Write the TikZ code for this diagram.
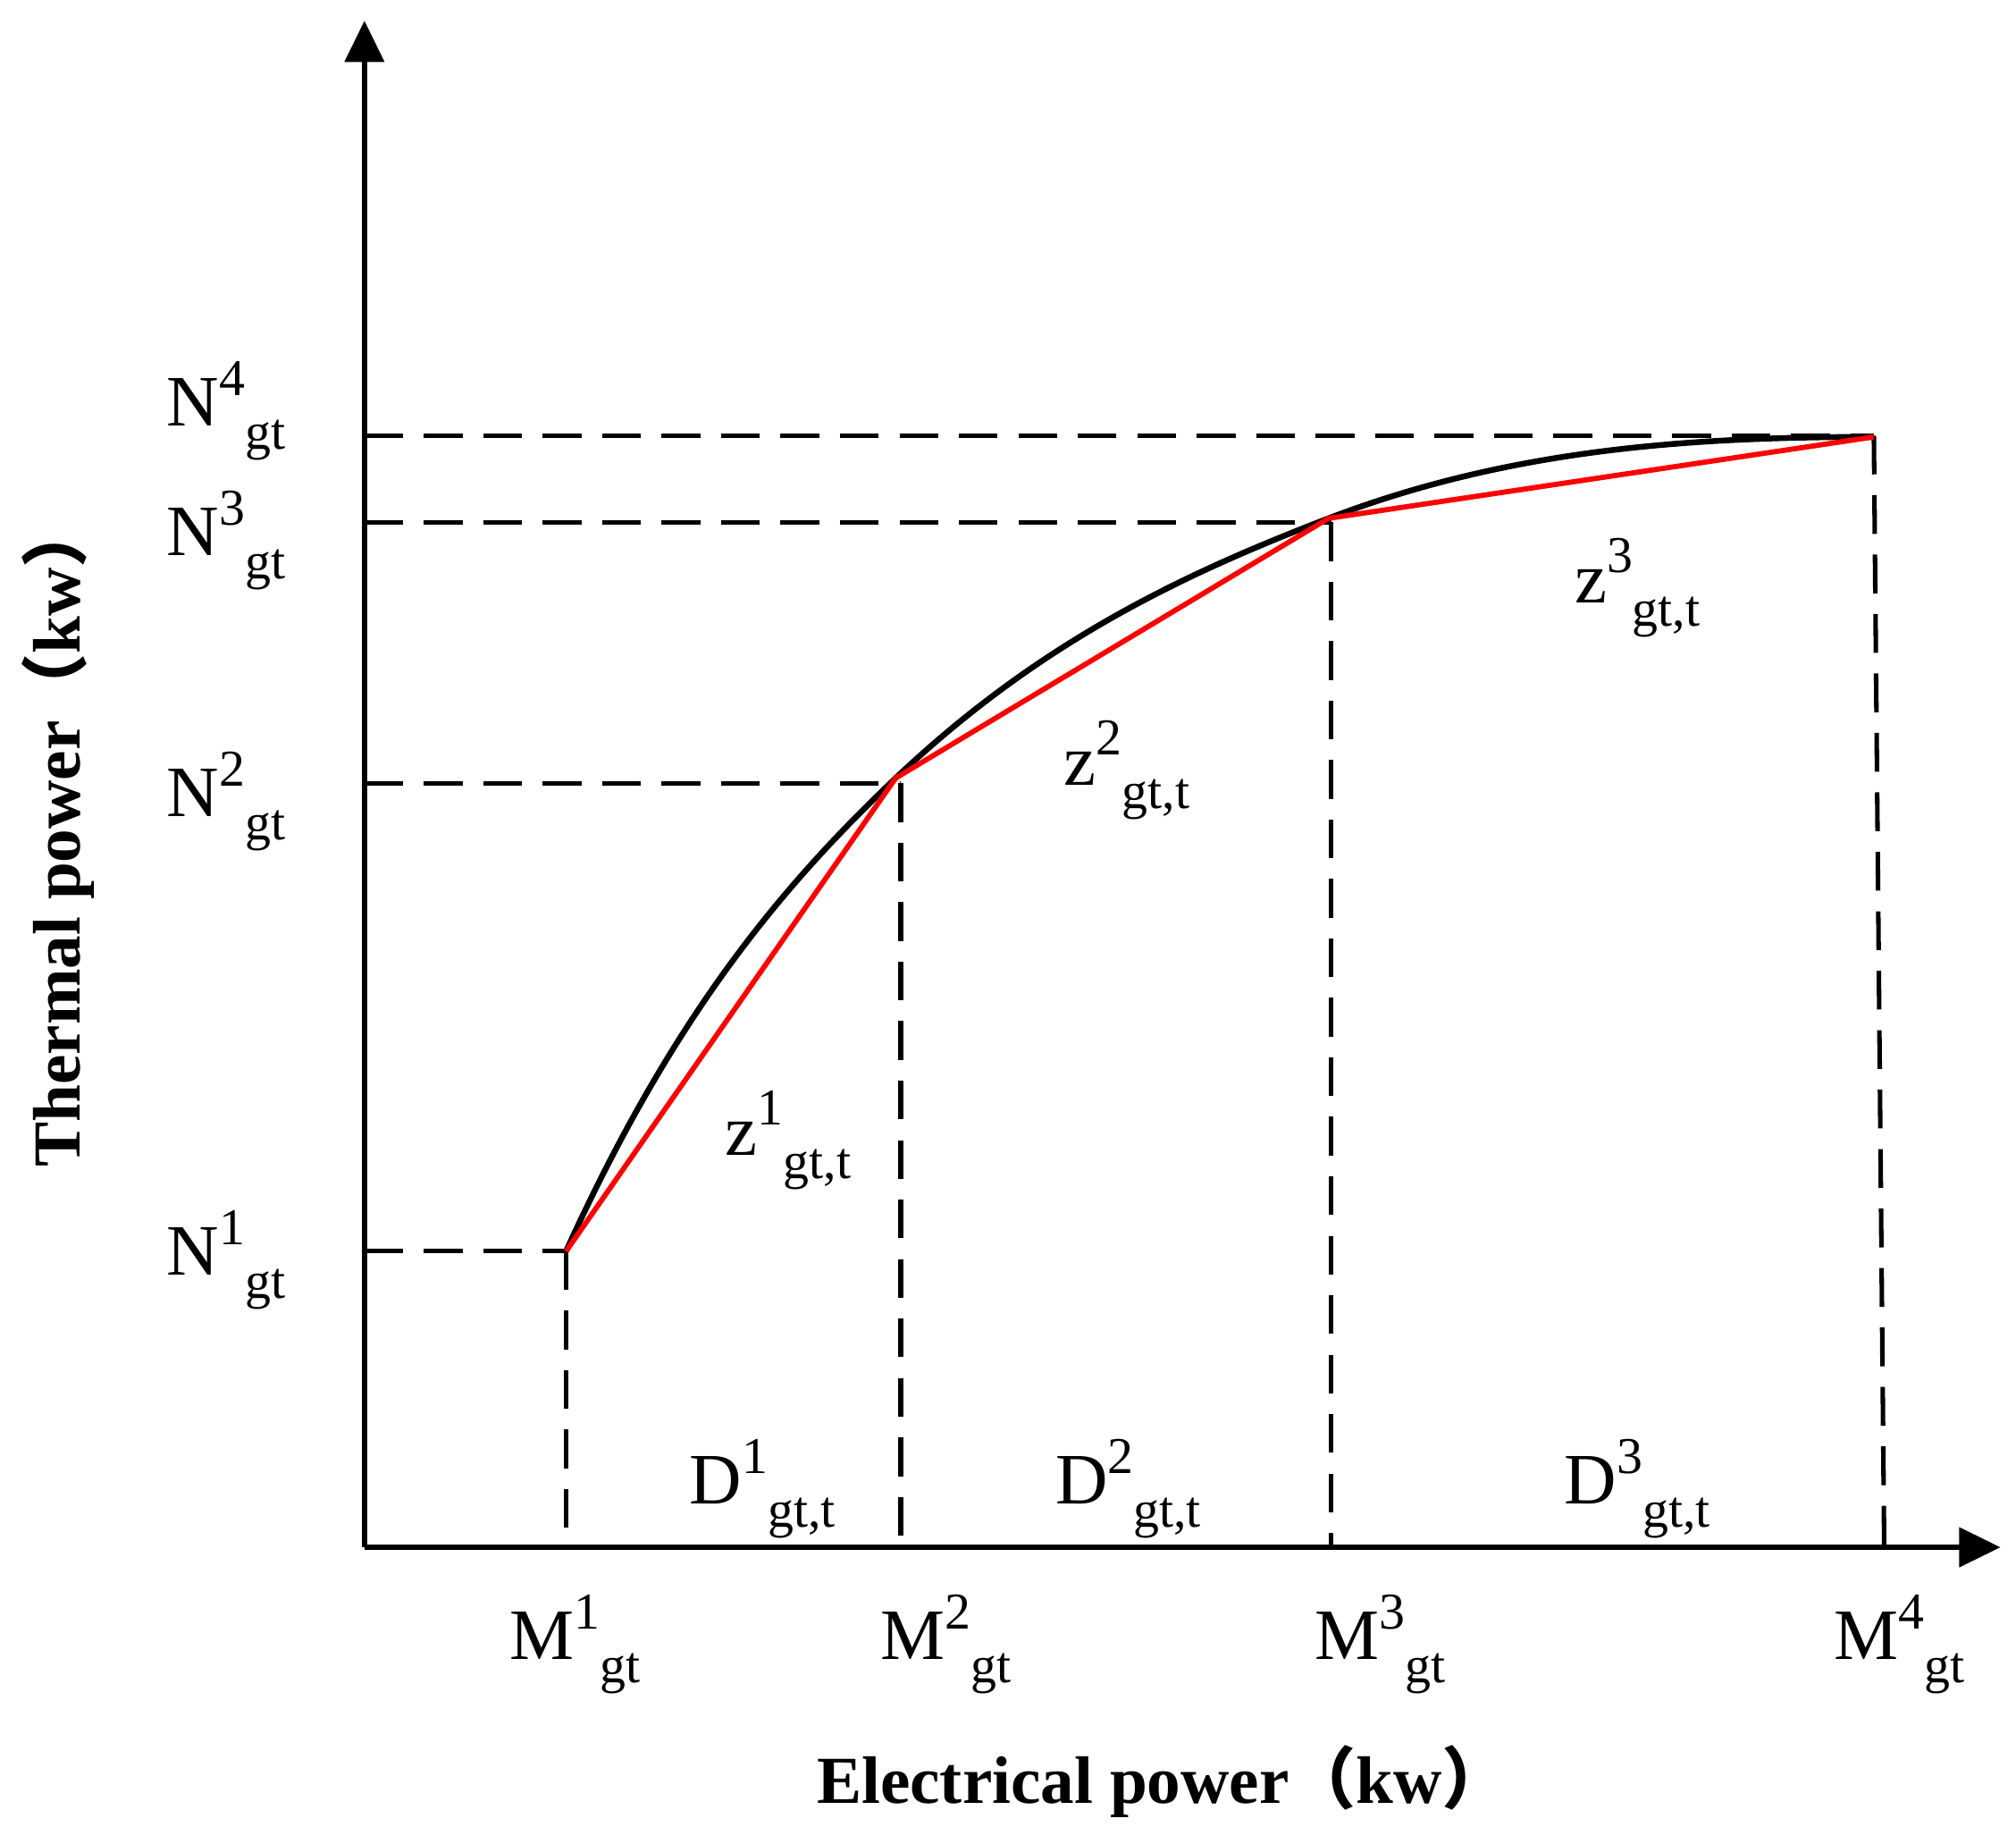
\documentclass[tikz,border=0pt]{standalone}
\usepackage{fontspec}
\setmainfont{Liberation Serif}
\newfontfamily\cjk{Noto Sans CJK SC}
\usetikzlibrary{arrows.meta}
\newcommand{\lbl}[3]{#1\raisebox{0.42em}{\fontsize{40}{40}\selectfont #2}\raisebox{-0.32em}{\fontsize{40}{40}\selectfont #3}}
\begin{document}
\begin{tikzpicture}[x=1pt,y=-1pt,
  ax/.style={line width=4.5pt,-{Triangle[length=32pt,width=30pt]}},
  dsh/.style={line width=3.5pt,dash pattern=on 30pt off 16pt},
  lab/.style={font=\fontsize{56}{58}\selectfont,inner sep=0pt},
  ttl/.style={font=\fontsize{52}{54}\selectfont\bfseries,inner sep=0pt}]
\useasboundingbox (0,0) rectangle (1560,1413);
\coordinate (O) at (282,1197);
\coordinate (Y) at (282,16);
\coordinate (X) at (1548,1197);
\coordinate (P1) at (438,968);
\coordinate (P2) at (693,602);
\coordinate (P3) at (1028,401);
\coordinate (P4) at (1450,338);
\coordinate (A1) at (282,968);
\coordinate (A2) at (282,606);
\coordinate (A3) at (282,404);
\coordinate (A4) at (282,337);
\coordinate (B1) at (438,1197);
\coordinate (B2) at (697,1197);
\coordinate (B3) at (1030,1197);
\coordinate (B4) at (1458,1197);
\coordinate (T2) at (697,606);
\coordinate (T3) at (1030,404);
\coordinate (T4) at (1450,337);
\draw[ax] (O) -- (Y);
\draw[ax] (O) -- (X);
\draw[dsh] (A1) -- (P1); \draw[dsh] (A2) -- (T2); \draw[dsh] (A3) -- (T3); \draw[dsh] (A4) -- (T4);
\draw[dsh] (P1) -- (B1); \draw[dsh] (T2) -- (B2); \draw[dsh] (T3) -- (B3); \draw[dsh] (T4) -- (B4);
\draw[line width=4.5pt] (P1) .. controls (523,781) and (608,683) .. (P2)
  .. controls (805,496) and (916,444) .. (P3)
  .. controls (1169,347) and (1309,338) .. (P4);
\draw[red,line width=4pt,line join=round] (P1) -- (P2) -- (P3) -- (P4);
\node[lab] (n4) at (175,318) {\lbl{N}{4}{gt}};
\node[lab] (n3) at (175,418) {\lbl{N}{3}{gt}};
\node[lab] (n2) at (175,620) {\lbl{N}{2}{gt}};
\node[lab] (n1) at (175,975) {\lbl{N}{1}{gt}};
\node[lab] (m1) at (445,1272) {\lbl{M}{1}{gt}};
\node[lab] (m2) at (732,1272) {\lbl{M}{2}{gt}};
\node[lab] (m3) at (1068,1272) {\lbl{M}{3}{gt}};
\node[lab] (m4) at (1470,1272) {\lbl{M}{4}{gt}};
\node[lab] (d1) at (590,1152) {\lbl{D}{1}{gt,t}};
\node[lab] (d2) at (873,1152) {\lbl{D}{2}{gt,t}};
\node[lab] (d3) at (1267,1152) {\lbl{D}{3}{gt,t}};
\node[lab] (z1) at (610,882) {\lbl{z}{1}{gt,t}};
\node[lab] (z2) at (872,596) {\lbl{z}{2}{gt,t}};
\node[lab] (z3) at (1267,455) {\lbl{z}{3}{gt,t}};
\node[ttl] (xt) at (900,1378) {Electrical power{\cjk（}kw{\cjk）}};
\node[ttl,rotate=90] (yt) at (45,645) {Thermal power{\cjk（}kw{\cjk）}};
\end{tikzpicture}
\end{document}
